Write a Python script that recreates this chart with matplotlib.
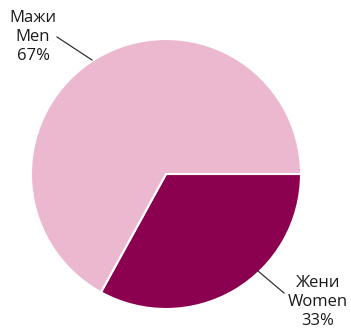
import matplotlib.pyplot as plt

labels_mk = ['Жени', 'Мажи']
labels_en = ['Women', 'Men']
shares = [33, 67]
colors = ['#8C0050', '#EBB8D0']

plt.rcParams['font.family'] = ['Open Sans', 'DejaVu Sans']

W, H = 351, 329
fig = plt.figure(figsize=(W / 100, H / 100), dpi=100)
# pie centred at (166, 174) px, radius 135 px
cx, cy, r = 166, 174, 135
ax = fig.add_axes([(cx - r) / W, (H - cy - r) / H, 2 * r / W, 2 * r / H])

ax.pie(shares, colors=colors, startangle=0, counterclock=False,
       wedgeprops=dict(edgecolor='white', linewidth=1.5))
ax.set_xlim(-1, 1)
ax.set_ylim(-1, 1)
ax.set_aspect('equal')
ax.axis('off')


def px(x, y):
    return ((x - cx) / r, (cy - y) / r)


# label text position and leader line endpoints in px
label_pos = [(318, 302), (33, 37)]
line_pts = [((258, 271), (284, 293)), ((92, 60), (57, 37))]

for i in range(len(shares)):
    txt = f'{labels_mk[i]}\n{labels_en[i]}\n{shares[i]}%'
    ax.text(*px(*label_pos[i]), txt, ha='center', va='center', fontsize=12,
            color='#1a1a1a', linespacing=1.22, clip_on=False)
    (x0, y0), (x1, y1) = line_pts[i]
    p0, p1 = px(x0, y0), px(x1, y1)
    ax.plot([p0[0], p1[0]], [p0[1], p1[1]], color='#333333', lw=0.9,
            clip_on=False)

fig.savefig('out.png', dpi=100)
